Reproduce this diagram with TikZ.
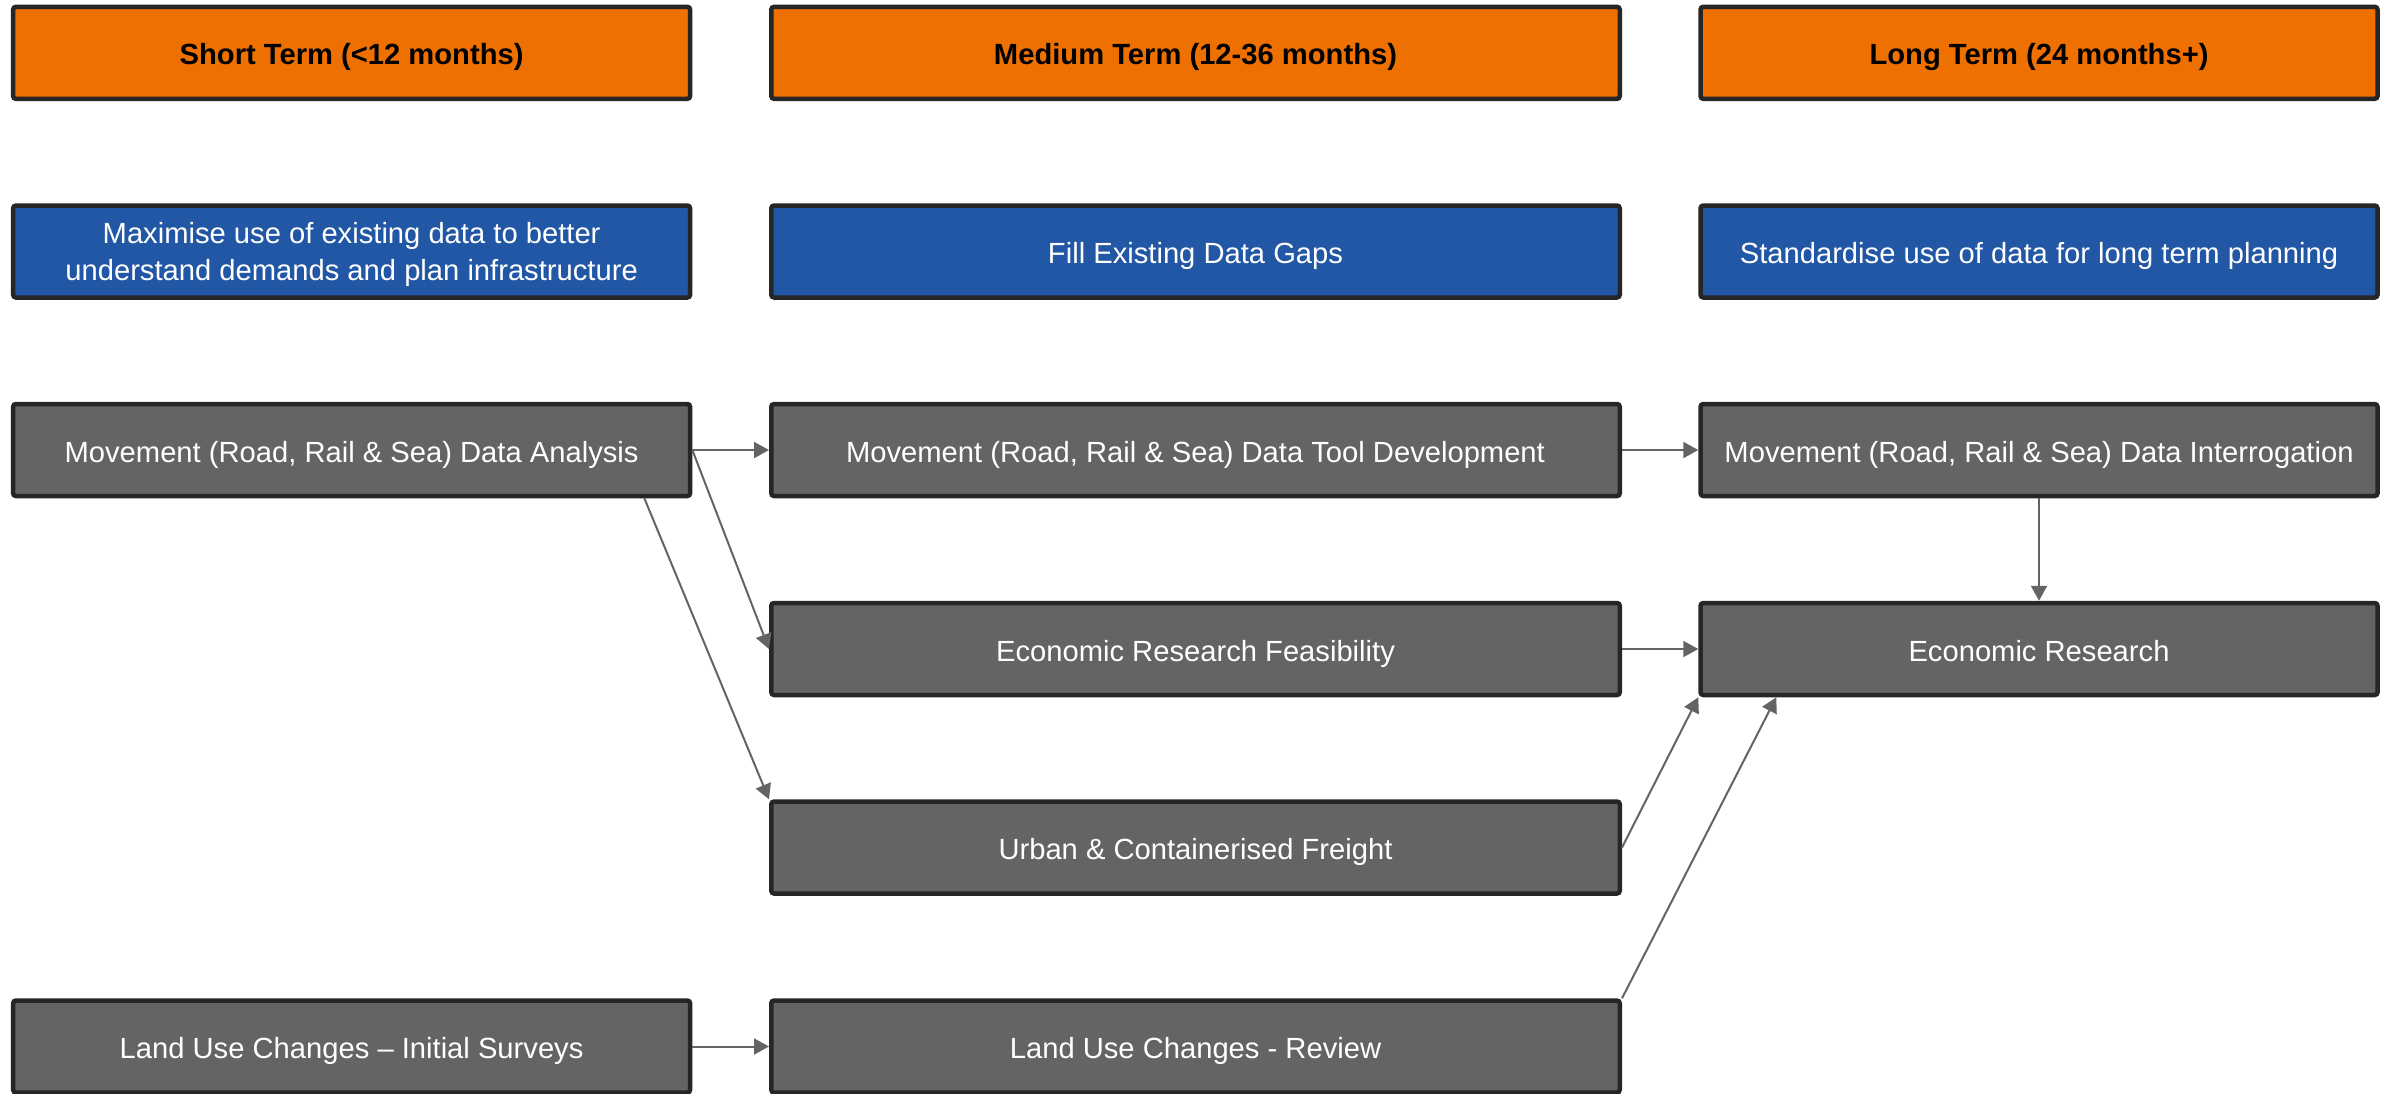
\documentclass[tikz,border=0pt]{standalone}
\usepackage{fontspec}
\setmainfont{Liberation Sans}
\usetikzlibrary{arrows.meta,calc}
\definecolor{hdrfill}{RGB}{238,112,0}
\definecolor{aimfill}{RGB}{34,87,165}
\definecolor{taskfill}{RGB}{100,100,100}
\definecolor{boxedge}{RGB}{38,38,38}
\definecolor{linkcol}{RGB}{100,100,100}
\begin{document}
\begin{tikzpicture}[
  box/.style={draw=boxedge, line width=0.045cm, rounded corners=0.8pt,
    minimum height=0.92cm, inner sep=0pt, align=center,
    font=\fontsize{8.3}{10}\selectfont},
  oneline/.style={text height=6.9pt, text depth=0pt},
  narrow/.style={minimum width=6.77cm},
  wide/.style={minimum width=8.485cm},
  header/.style={box, oneline, fill=hdrfill, text=black,
    font=\fontsize{8.3}{10}\selectfont\bfseries},
  aim/.style={box, oneline, fill=aimfill, text=white},
  aimtwo/.style={box, fill=aimfill, text=white},
  task/.style={box, oneline, fill=taskfill, text=white},
  flow/.style={draw=linkcol, line width=0.02cm,
    -{Triangle[length=0.15cm,width=0.16cm]}}
]
\useasboundingbox (0,0) rectangle (23.97,-10.93);

% time horizons
\node[header,narrow] (h1) at (3.516,-0.528) {Short Term (<12 months)};
\node[header,wide]   (h2) at (11.955,-0.528) {Medium Term (12-36 months)};
\node[header,narrow] (h3) at (20.39,-0.528) {Long Term (24 months+)};

% aims (the two-line text is lowered a little inside its box)
\node[aimtwo,narrow] (a1) at (3.516,-2.515)
  {\raisebox{-0.9pt}[\height][\depth]{\parbox{6.6cm}{\centering\fontsize{8.3}{10.4}\selectfont
   Maximise use of existing data to better\\understand demands and plan infrastructure}}};
\node[aim,wide]   (a2) at (11.955,-2.515) {Fill Existing Data Gaps};
\node[aim,narrow] (a3) at (20.39,-2.515) {Standardise use of data for long term planning};

% work items
\node[task,narrow] (m1) at (3.516,-4.50) {Movement (Road, Rail \& Sea) Data Analysis};
\node[task,wide]   (m2) at (11.955,-4.50) {Movement (Road, Rail \& Sea) Data Tool Development};
\node[task,narrow] (m3) at (20.39,-4.50) {Movement (Road, Rail \& Sea) Data Interrogation};

\node[task,wide]   (f2) at (11.955,-6.49) {Economic Research Feasibility};
\node[task,narrow] (e3) at (20.39,-6.49) {Economic Research};

\node[task,wide]   (u2) at (11.955,-8.475) {Urban \& Containerised Freight};

\node[task,narrow] (l1) at (3.516,-10.465) {Land Use Changes – Initial Surveys};
\node[task,wide]   (l2) at (11.955,-10.465) {Land Use Changes - Review};

% dependencies
\draw[flow] (m1.east) -- (m2.west);
\draw[flow] (m1.east) -- (f2.west);
\draw[flow] ([xshift=-0.48cm]m1.south east) -- (u2.north west);
\draw[flow] (m2.east) -- (m3.west);
\draw[flow] (m3.south) -- (e3.north);
\draw[flow] (f2.east) -- (e3.west);
\draw[flow] (u2.east) -- (e3.south west);
\draw[flow] (l2.north east) -- ([xshift=0.78cm]e3.south west);
\draw[flow] (l1.east) -- (l2.west);
\end{tikzpicture}
\end{document}
